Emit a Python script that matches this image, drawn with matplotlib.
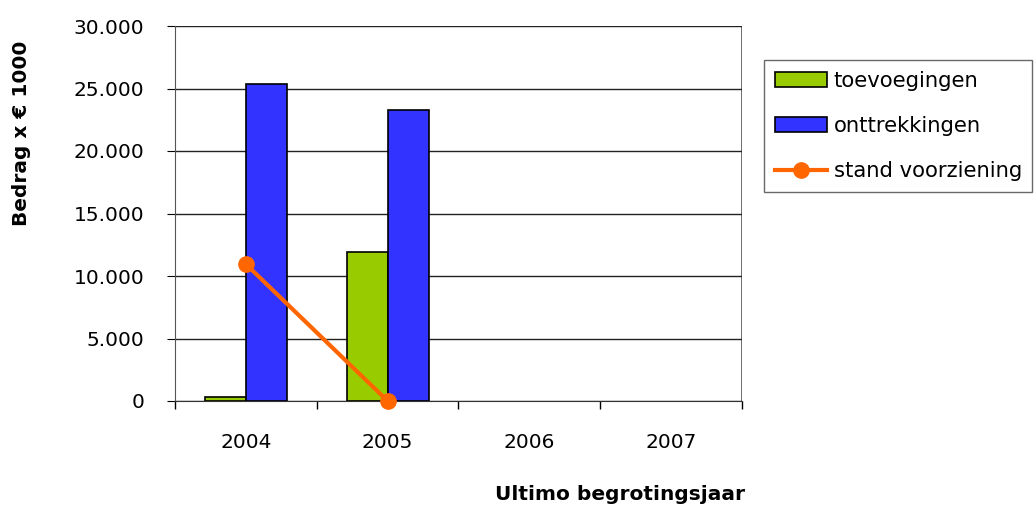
import matplotlib.pyplot as plt
import numpy as np

# chart data
years = ["2004", "2005", "2006", "2007"]
toevoegingen = [300, 11900, 0, 0]
onttrekkingen = [25400, 23300, 0, 0]
stand_years = ["2004", "2005"]
stand = [10950, 0]

plt.rcParams['font.family'] = ['DejaVu Sans']

fig = plt.figure(figsize=(10.35, 5.08), dpi=100)
ax = fig.add_axes([175 / 1035, 1 - 401 / 508, 567 / 1035, 375 / 508])

x = np.arange(len(years))
w = 0.29
ax.bar(x[:2] - w / 2, toevoegingen[:2], width=w, color='#99cc00',
       edgecolor='black', linewidth=1.2, label='toevoegingen', zorder=3)
ax.bar(x[:2] + w / 2, onttrekkingen[:2], width=w, color='#3333ff',
       edgecolor='black', linewidth=1.2, label='onttrekkingen', zorder=3)
ax.plot(np.arange(len(stand_years)), stand, color='#ff6600', linewidth=3,
        marker='o', markersize=11, label='stand voorziening', zorder=4,
        clip_on=False)

ax.set_xlim(-0.5, 3.5)
ax.set_ylim(0, 30000)
ax.set_yticks(np.arange(0, 30001, 5000))
ax.set_yticklabels([f"{v:,}".replace(",", ".") for v in range(0, 30001, 5000)])
ax.set_xticks(x)
ax.set_xticklabels(years)
ax.set_xticks(np.arange(-0.5, 3.6, 1), minor=True)
ax.tick_params(axis='x', which='major', length=0, pad=23, labelsize=14.5)
ax.tick_params(axis='x', which='minor', length=6, direction='out', width=1)
ax.tick_params(axis='y', length=6, direction='out', pad=16, labelsize=14.5)

ax.yaxis.grid(True, color='#222222', linewidth=1, zorder=0)
for s in ['top', 'right']:
    ax.spines[s].set_visible(False)
ax.spines['left'].set_color('#555555')
ax.spines['bottom'].set_color('#333333')
ax.axvline(3.5, color='#555555', linewidth=1.2, ymax=1, zorder=1)

fig.text(22 / 1035, 1 - 133 / 508, "Bedrag x € 1000", rotation=90,
         ha='center', va='center', fontsize=14.5, fontweight='bold')
fig.text(620 / 1035, 1 - 495 / 508, "Ultimo begrotingsjaar",
         ha='center', va='center', fontsize=14.5, fontweight='bold')

handles, labels = ax.get_legend_handles_labels()
order = [1, 2, 0]
leg = fig.legend([handles[i] for i in order], [labels[i] for i in order],
                 loc='upper left', bbox_to_anchor=(764 / 1035, 1 - 60 / 508),
                 fontsize=15.2, frameon=True, fancybox=False, edgecolor='#444444',
                 handlelength=2.5, handleheight=0.7, borderpad=0.5,
                 labelspacing=1.2, handletextpad=0.3, borderaxespad=0)
leg.get_frame().set_linewidth(1)

fig.savefig("out.png", dpi=100)
